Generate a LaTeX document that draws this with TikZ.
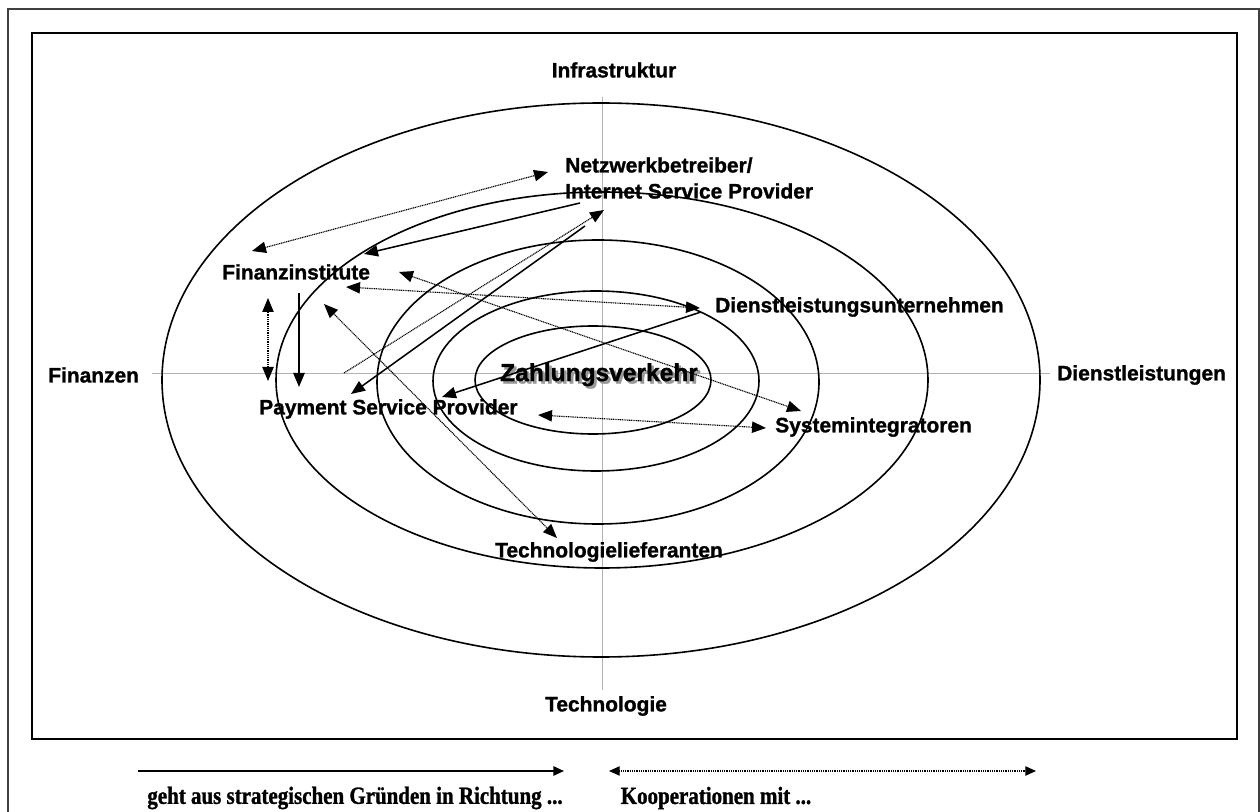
\documentclass[tikz,border=0pt]{standalone}
\usepackage{fontspec}
\setmainfont{Liberation Sans}[BoldFeatures={FakeBold=1.2}]
\newfontfamily\legendfont{Liberation Serif}[FakeStretch=0.85, BoldFeatures={FakeBold=1.2}]
\usetikzlibrary{arrows.meta}

% bold caption with a soft grey drop shadow behind it
\newcommand{\shadowtext}[1]{\rlap{\hspace{1.9pt}\raisebox{-1.9pt}{\textcolor{black!40}{#1}}}#1}

\begin{document}
\begin{tikzpicture}[x=0.75pt,y=-0.75pt,
  lbl/.style={font=\bfseries\fontsize{15.7}{17}\selectfont, inner sep=0pt},
  center lbl/.style={font=\bfseries\fontsize{18.4}{21}\selectfont, inner sep=0pt},
  legend/.style={font=\legendfont\bfseries\fontsize{18.5}{21}\selectfont, inner sep=0pt},
  ring/.style={line width=1.2pt},
  axisline/.style={draw=black!30, line width=0.7pt},
  tip/.tip={Triangle[length=10.5pt,width=8.5pt]},
  strat/.style={line width=1.15pt, -tip},
  coop/.style={line width=0.85pt, dash pattern=on 0.8pt off 0.55pt, tip-tip},
  coopone/.style={line width=0.85pt, dash pattern=on 0.8pt off 0.55pt, -tip},
  smalltip/.tip={Triangle[length=8pt,width=7pt]}]

\useasboundingbox (0,0) rectangle (1260,812);

% frames
\draw[black!75, line width=1.1pt] (8,812) -- (8,9) -- (1259,9) -- (1259,812);
\draw[line width=1.3pt] (32,33) rectangle (1237,739);

% axes
\draw[axisline] (152,373) -- (1050,373);
\draw[axisline] (602,97) -- (602,690);

% concentric rings
\draw[ring] (601,380) ellipse [x radius=439, y radius=277];
\draw[ring] (602,380) ellipse [x radius=326, y radius=188];
\draw[ring] (598,382) ellipse [x radius=221, y radius=142];
\draw[ring] (596,381) ellipse [x radius=163, y radius=90];
\draw[ring] (593,380) ellipse [x radius=118, y radius=54];

% axis labels
\node[lbl] (infra) at (614,70) {Infrastruktur};
\node[lbl] (tech) at (606,706) {Technologie};
\node[lbl, anchor=west] (fin) at (48,375) {Finanzen};
\node[lbl, anchor=west] (dienst) at (1057,375) {Dienstleistungen};

% actors
\node[lbl, anchor=west, align=left] (isp) at (565,178) {Netzwerkbetreiber/\\[2.5pt]Internet Service Provider};
\node[lbl, anchor=west] (fi) at (222,272) {Finanzinstitute};
\node[lbl, anchor=west] (du) at (715,307) {Dienstleistungsunternehmen};
\node[lbl, anchor=west] (psp) at (259,409) {Payment Service Provider};
\node[lbl, anchor=west] (si) at (775,427) {Systemintegratoren};
\node[lbl] (tl) at (609,552) {Technologielieferanten};
\node[center lbl] (zv) at (599,376) {\shadowtext{Zahlungsverkehr}};

% connector end points
\coordinate (isp-a) at (548,172);
\coordinate (isp-b) at (580,203);
\coordinate (isp-c) at (604,210);
\coordinate (isp-d) at (585,226);
\coordinate (fi-a) at (252,251);
\coordinate (fi-b) at (364,254);
\coordinate (fi-c) at (399,272);
\coordinate (fi-d) at (346,287);
\coordinate (fi-e) at (268,298);
\coordinate (fi-f) at (299,293);
\coordinate (fi-g) at (324,304);
\coordinate (psp-a) at (268,381);
\coordinate (psp-b) at (299,387);
\coordinate (psp-c) at (351,394);
\coordinate (psp-d) at (442,397);
\coordinate (psp-e) at (538,415);
\coordinate (axis-a) at (344,373);
\coordinate (du-a) at (700,308);
\coordinate (du-b) at (701,312);
\coordinate (si-a) at (801,411);
\coordinate (si-b) at (766,428);
\coordinate (tl-a) at (557,538);

% strategic moves
\draw[strat] (isp-b) -- (fi-b);
\draw[strat] (isp-d) -- (psp-c);
\draw[strat] (fi-f) -- (psp-b);
\draw[strat] (du-b) -- (psp-d);

% cooperations
\draw[coop] (fi-a) -- (isp-a);
\draw[coopone] (axis-a) -- (isp-c);
\draw[coop] (fi-c) -- (si-a);
\draw[coop] (fi-d) -- (du-a);
\draw[coop] (fi-e) -- (psp-a);
\draw[coop] (fi-g) -- (tl-a);
\draw[coop] (psp-e) -- (si-b);

% legend
\coordinate (l1a) at (138,771);
\coordinate (l1b) at (564,771);
\coordinate (l2a) at (609,771);
\coordinate (l2b) at (1036,771);
\draw[line width=1.3pt, -smalltip] (l1a) -- (l1b);
\draw[line width=0.85pt, dash pattern=on 0.8pt off 0.55pt, smalltip-smalltip] (l2a) -- (l2b);
\node[legend] (leg1) at (355,798) {geht aus strategischen Gründen in Richtung ...};
\node[legend] (leg2) at (716,798) {Kooperationen mit ...};
\end{tikzpicture}
\end{document}
